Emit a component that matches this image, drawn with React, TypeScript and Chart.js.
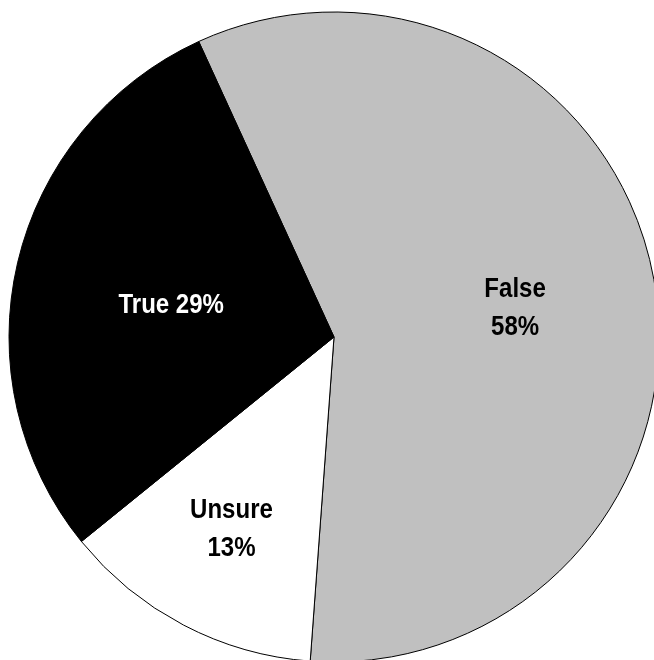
import React, { useEffect, useRef } from "react";
import { Chart, registerables } from "chart.js";

Chart.register(...registerables);

// Survey answer shares (percent)
const categories = ["False", "Unsure", "True"];
const values = [58, 13, 29];
const sliceColors = ["#C0C0C0", "#FFFFFF", "#000000"];
const labelColors = ["#000000", "#000000", "#FFFFFF"];
// true = label and value on a single line
const labelInline = [false, false, true];
// label distance from the centre, as a fraction of the radius
const labelRadius = [0.564, 0.672, 0.51];
// small angular nudge of each label away from the slice bisector (degrees)
const labelAngleShift = [1.25, 0.4, -2.4];

const LABEL_FONT = "bold 27px 'Liberation Sans', Arial, sans-serif";
const LABEL_SQUEEZE = 0.89; // condensed look
const LINE_HEIGHT = 38;

const sliceLabels = {
  id: "sliceLabels",
  afterDatasetsDraw(chart: any) {
    const { ctx } = chart;
    const meta = chart.getDatasetMeta(0);
    ctx.save();
    ctx.font = LABEL_FONT;
    ctx.textAlign = "center";
    ctx.textBaseline = "middle";
    meta.data.forEach((arc: any, i: number) => {
      const { x, y, startAngle, endAngle, outerRadius } = arc.getProps(
        ["x", "y", "startAngle", "endAngle", "outerRadius"],
        true
      );
      const mid = (startAngle + endAngle) / 2 + (labelAngleShift[i] * Math.PI) / 180;
      const r = outerRadius * labelRadius[i];
      const cx = x + Math.cos(mid) * r;
      const cy = y + Math.sin(mid) * r;
      const pct = `${values[i]}%`;
      const lines = labelInline[i] ? [`${categories[i]} ${pct}`] : [categories[i], pct];
      ctx.fillStyle = labelColors[i];
      lines.forEach((t, k) => {
        const ty = cy + (k - (lines.length - 1) / 2) * LINE_HEIGHT;
        ctx.save();
        ctx.translate(cx, ty);
        ctx.scale(LABEL_SQUEEZE, 1);
        ctx.fillText(t, 0, 0);
        ctx.restore();
      });
    });
    ctx.restore();
  },
};

export default function App() {
  const ref = useRef<HTMLCanvasElement | null>(null);

  useEffect(() => {
    const canvas = ref.current;
    if (!canvas) return;
    const chart = new Chart(canvas, {
      type: "pie",
      data: {
        labels: categories,
        datasets: [
          {
            data: values,
            backgroundColor: sliceColors,
            borderColor: "#000000",
            borderWidth: 1,
          },
        ],
      },
      options: {
        responsive: false,
        animation: false,
        rotation: -24.6,
        radius: 325,
        layout: { padding: 0 },
        plugins: {
          legend: { display: false },
          tooltip: { enabled: false },
          title: { display: false },
        },
      },
      plugins: [sliceLabels],
    });
    return () => chart.destroy();
  }, []);

  return (
    <div
      style={{
        position: "fixed",
        left: 0,
        top: 0,
        width: 654,
        height: 660,
        overflow: "hidden",
        background: "#ffffff",
      }}
    >
      <canvas
        ref={ref}
        width={652}
        height={652}
        style={{ position: "absolute", left: 8, top: 11, width: 652, height: 652 }}
      />
    </div>
  );
}
